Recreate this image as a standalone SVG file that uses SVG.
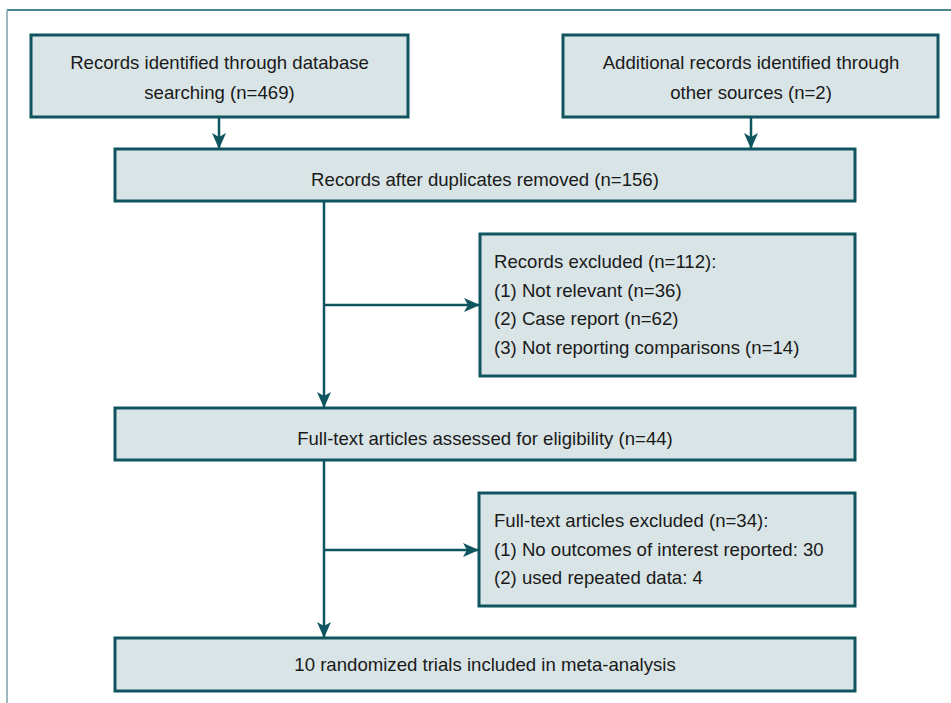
<svg xmlns="http://www.w3.org/2000/svg" width="951" height="703" viewBox="0 0 951 703">
<style>
.box{fill:#d9e4e6;stroke:#0e5560;stroke-width:3}
.t{font-family:"Liberation Sans",Arial,sans-serif;font-size:18.6px;fill:#1a1a1a}
.c{text-anchor:middle}
.ln{stroke:#0e5560;stroke-width:2.5;fill:none}
</style>
<defs>
<marker id="ah" markerWidth="16" markerHeight="14" refX="15" refY="7" orient="auto" markerUnits="userSpaceOnUse">
<path d="M0,0 L16,7 L0,14 L4,7 Z" fill="#0e5560"/>
</marker>
</defs>
<rect width="951" height="703" fill="#fff"/>
<line x1="7" y1="10" x2="951" y2="10" stroke="#0e5f66" stroke-width="1.5"/>
<line x1="7" y1="10" x2="7" y2="703" stroke="#7fa3a8" stroke-width="1.5"/>
<g id="connectors">
<line class="ln" x1="219" y1="117" x2="219" y2="148" marker-end="url(#ah)"/>
<line class="ln" x1="751" y1="117" x2="751" y2="148" marker-end="url(#ah)"/>
<line class="ln" x1="324" y1="201" x2="324" y2="407" marker-end="url(#ah)"/>
<line class="ln" x1="324" y1="305" x2="479" y2="305" marker-end="url(#ah)"/>
<line class="ln" x1="324" y1="460" x2="324" y2="637" marker-end="url(#ah)"/>
<line class="ln" x1="324" y1="550" x2="478" y2="550" marker-end="url(#ah)"/>
</g>
<g id="n1">
<rect class="box" x="31" y="35" width="377" height="82"/>
<text class="t c" x="219.5" y="69">Records identified through database</text>
<text class="t c" x="219.5" y="99">searching (n=469)</text>
</g>
<g id="n2">
<rect class="box" x="563" y="35" width="375" height="82"/>
<text class="t c" x="751" y="69">Additional records identified through</text>
<text class="t c" x="751" y="99">other sources (n=2)</text>
</g>
<g id="n3">
<rect class="box" x="115" y="149" width="740" height="52"/>
<text class="t c" x="485" y="186">Records after duplicates removed (n=156)</text>
</g>
<g id="n4">
<rect class="box" x="480" y="234" width="375" height="142"/>
<text class="t" x="494" y="268">Records excluded (n=112):</text>
<text class="t" x="494" y="297">(1) Not relevant (n=36)</text>
<text class="t" x="494" y="325">(2) Case report (n=62)</text>
<text class="t" x="494" y="354">(3) Not reporting comparisons (n=14)</text>
</g>
<g id="n5">
<rect class="box" x="115" y="408" width="740" height="52"/>
<text class="t c" x="485" y="445">Full-text articles assessed for eligibility (n=44)</text>
</g>
<g id="n6">
<rect class="box" x="479" y="493" width="376" height="113"/>
<text class="t" x="494" y="527">Full-text articles excluded (n=34):</text>
<text class="t" x="494" y="556">(1) No outcomes of interest reported: 30</text>
<text class="t" x="494" y="584">(2) used repeated data: 4</text>
</g>
<g id="n7">
<rect class="box" x="115" y="638" width="740" height="53"/>
<text class="t c" x="485" y="671">10 randomized trials included in meta-analysis</text>
</g>
</svg>
